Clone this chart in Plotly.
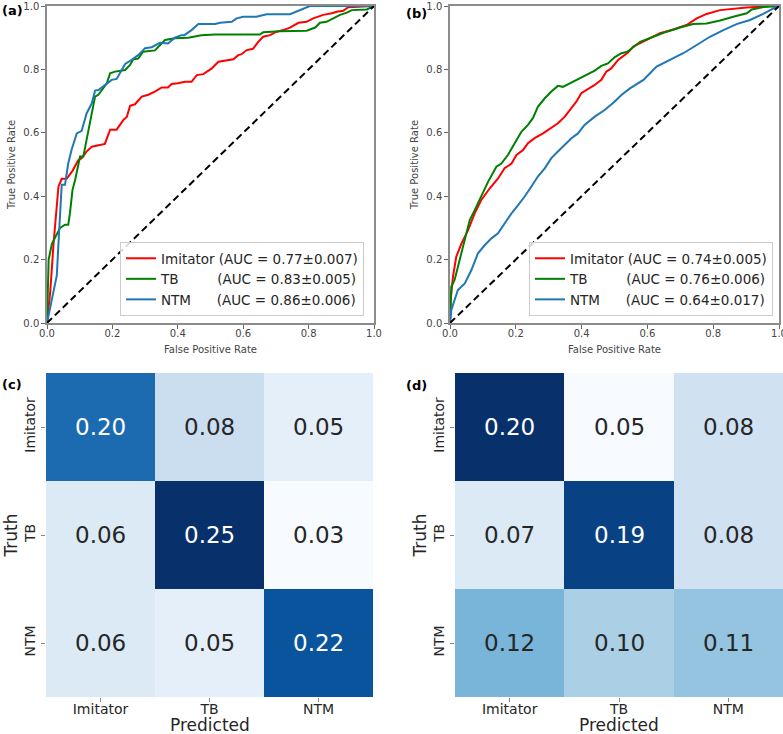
import plotly.graph_objects as go

# ---- ROC data, panel (a) ----
fpr_a_imitator = [0, 0.01, 0.02, 0.03, 0.035, 0.045, 0.06, 0.078, 0.096, 0.106, 0.12, 0.137, 0.157, 0.177,
                  0.193, 0.213, 0.233, 0.244, 0.254, 0.269, 0.29, 0.31, 0.33, 0.351, 0.37, 0.381, 0.40, 0.422,
                  0.442, 0.458, 0.478, 0.504, 0.524, 0.548, 0.57, 0.585, 0.595, 0.611, 0.63, 0.646, 0.661,
                  0.682, 0.702, 0.723, 0.743, 0.769, 0.794, 0.814, 0.845, 0.871, 0.886, 0.906, 0.921, 1.0]
tpr_a_imitator = [0, 0.10, 0.25, 0.37, 0.43, 0.455, 0.455, 0.48, 0.514, 0.52, 0.54, 0.556, 0.56, 0.565,
                  0.61, 0.61, 0.64, 0.65, 0.685, 0.69, 0.714, 0.72, 0.73, 0.743, 0.743, 0.754, 0.756, 0.761,
                  0.761, 0.782, 0.785, 0.803, 0.824, 0.828, 0.832, 0.845, 0.848, 0.861, 0.865, 0.887, 0.903,
                  0.908, 0.919, 0.924, 0.932, 0.947, 0.95, 0.961, 0.972, 0.977, 0.982, 0.985, 0.996, 1.0]

fpr_a_tb = [0, 0.003, 0.005, 0.015, 0.03, 0.04, 0.055, 0.065, 0.07, 0.078, 0.086, 0.101, 0.111, 0.121, 0.137,
            0.147, 0.157, 0.167, 0.183, 0.193, 0.208, 0.239, 0.254, 0.264, 0.279, 0.294, 0.33, 0.346, 0.361,
            0.391, 0.432, 0.472, 0.514, 0.651, 0.661, 0.712, 0.794, 0.82, 0.835, 0.855, 0.876, 0.896, 0.917,
            0.932, 0.978, 0.993, 1.0]
tpr_a_tb = [0, 0.12, 0.20, 0.25, 0.28, 0.30, 0.31, 0.31, 0.345, 0.42, 0.451, 0.525, 0.525, 0.577, 0.661,
            0.714, 0.72, 0.735, 0.756, 0.788, 0.793, 0.798, 0.814, 0.832, 0.834, 0.856, 0.86, 0.877, 0.893,
            0.898, 0.90, 0.908, 0.91, 0.91, 0.917, 0.92, 0.922, 0.932, 0.947, 0.95, 0.961, 0.972, 0.979,
            0.987, 0.989, 0.997, 1.0]

fpr_a_ntm = [0, 0.01, 0.02, 0.03, 0.035, 0.04, 0.045, 0.055, 0.065, 0.075, 0.091, 0.106, 0.121, 0.137, 0.147,
             0.157, 0.177, 0.198, 0.213, 0.239, 0.259, 0.279, 0.30, 0.32, 0.346, 0.37, 0.391, 0.411, 0.42,
             0.442, 0.463, 0.514, 0.529, 0.565, 0.58, 0.60, 0.64, 0.672, 0.743, 0.763, 0.794, 0.804, 1.0]
tpr_a_ntm = [0, 0.05, 0.10, 0.15, 0.25, 0.35, 0.436, 0.436, 0.504, 0.546, 0.598, 0.606, 0.661, 0.693, 0.733,
             0.735, 0.751, 0.767, 0.77, 0.817, 0.83, 0.845, 0.867, 0.87, 0.884, 0.882, 0.90, 0.908, 0.908,
             0.924, 0.943, 0.943, 0.947, 0.95, 0.961, 0.966, 0.966, 0.974, 0.974, 0.982, 0.996, 1.0, 1.0]

# ---- ROC data, panel (b) ----
fpr_b_imitator = [0, 0.002, 0.009, 0.019, 0.035, 0.055, 0.075, 0.095, 0.121, 0.146, 0.166, 0.187, 0.202,
                  0.222, 0.237, 0.257, 0.283, 0.303, 0.328, 0.349, 0.369, 0.384, 0.399, 0.419, 0.44, 0.46,
                  0.475, 0.49, 0.511, 0.541, 0.557, 0.598, 0.638, 0.679, 0.719, 0.75, 0.78, 0.821, 0.862,
                  0.902, 0.963, 1.0]
tpr_b_imitator = [0, 0.072, 0.146, 0.209, 0.251, 0.293, 0.346, 0.388, 0.425, 0.456, 0.488, 0.503, 0.53,
                  0.546, 0.567, 0.583, 0.598, 0.611, 0.63, 0.651, 0.677, 0.698, 0.725, 0.737, 0.751, 0.767,
                  0.793, 0.803, 0.83, 0.853, 0.872, 0.893, 0.914, 0.926, 0.94, 0.961, 0.975, 0.987, 0.992,
                  0.995, 0.999, 1.0]

fpr_b_tb = [0, 0.004, 0.014, 0.035, 0.06, 0.075, 0.095, 0.116, 0.141, 0.156, 0.176, 0.197, 0.217, 0.237,
            0.252, 0.267, 0.288, 0.308, 0.328, 0.343, 0.358, 0.389, 0.414, 0.44, 0.46, 0.48, 0.50, 0.521,
            0.54, 0.578, 0.618, 0.659, 0.699, 0.739, 0.78, 0.821, 0.861, 0.902, 0.917, 0.953, 1.0]
tpr_b_tb = [0, 0.115, 0.136, 0.22, 0.325, 0.356, 0.398, 0.446, 0.493, 0.503, 0.53, 0.567, 0.603, 0.625,
            0.646, 0.682, 0.709, 0.73, 0.748, 0.745, 0.753, 0.769, 0.782, 0.796, 0.811, 0.819, 0.838, 0.851,
            0.856, 0.887, 0.903, 0.919, 0.932, 0.943, 0.945, 0.954, 0.966, 0.977, 0.989, 0.997, 1.0]

fpr_b_ntm = [0, 0.004, 0.024, 0.045, 0.065, 0.085, 0.106, 0.126, 0.146, 0.166, 0.187, 0.207, 0.227, 0.247,
             0.267, 0.288, 0.308, 0.328, 0.349, 0.369, 0.389, 0.409, 0.44, 0.47, 0.50, 0.521, 0.547, 0.588,
             0.628, 0.669, 0.709, 0.75, 0.79, 0.831, 0.871, 0.912, 0.952, 0.993, 1.0]
tpr_b_ntm = [0, 0.041, 0.104, 0.125, 0.167, 0.22, 0.246, 0.267, 0.283, 0.314, 0.346, 0.372, 0.399, 0.43,
             0.462, 0.488, 0.52, 0.541, 0.562, 0.583, 0.598, 0.625, 0.651, 0.672, 0.698, 0.719, 0.74, 0.767,
             0.809, 0.83, 0.851, 0.877, 0.903, 0.924, 0.943, 0.956, 0.975, 0.998, 1.0]

classes = ["Imitator", "TB", "NTM"]
auc_a = ["0.77±0.007", "0.83±0.005", "0.86±0.006"]
auc_b = ["0.74±0.005", "0.76±0.006", "0.64±0.017"]

# ---- confusion matrices (rows = truth, cols = predicted) ----
cm_c = [[0.20, 0.08, 0.05],
        [0.06, 0.25, 0.03],
        [0.06, 0.05, 0.22]]
cm_d = [[0.20, 0.05, 0.08],
        [0.07, 0.19, 0.08],
        [0.12, 0.10, 0.11]]

# matplotlib "Blues"
blues = [[0.0, "#f7fbff"], [0.125, "#deebf7"], [0.25, "#c6dbef"], [0.375, "#9ecae1"],
         [0.5, "#6baed6"], [0.625, "#4292c6"], [0.75, "#2171b5"], [0.875, "#08519c"], [1.0, "#08306b"]]

colors = ["red", "green", "#1f77b4"]
W, H = 783, 734
FONT = "DejaVu Sans"

# pad names so that "(AUC" lines up like in the original legend
pad = {"Imitator": " ", "TB": "\u00a0" * 8 + " ", "NTM": "\u00a0" * 5 + " "}

fig = go.Figure()

roc_sets = [
    ("x", "y", "legend", auc_a, [(fpr_a_imitator, tpr_a_imitator), (fpr_a_tb, tpr_a_tb), (fpr_a_ntm, tpr_a_ntm)]),
    ("x2", "y2", "legend2", auc_b, [(fpr_b_imitator, tpr_b_imitator), (fpr_b_tb, tpr_b_tb), (fpr_b_ntm, tpr_b_ntm)]),
]
for xa, ya, lg, aucs, curves in roc_sets:
    for i, (fx, ty) in enumerate(curves):
        fig.add_trace(go.Scatter(x=fx, y=ty, mode="lines", xaxis=xa, yaxis=ya, legend=lg,
                                 line=dict(color=colors[i], width=2),
                                 name=f"{classes[i]}{pad[classes[i]]}(AUC = {aucs[i]})"))
    fig.add_trace(go.Scatter(x=[0, 1], y=[0, 1], mode="lines", xaxis=xa, yaxis=ya, showlegend=False,
                             line=dict(color="black", width=2, dash="7px,4px")))


def cell_annotations(cm, xa, ya):
    flat = [v for row in cm for v in row]
    lo, hi = min(flat), max(flat)
    out = []
    for r, row in enumerate(cm):
        for c, v in enumerate(row):
            dark = (v - lo) / (hi - lo) > 0.6
            out.append(dict(x=classes[c], y=classes[r], xref=xa, yref=ya, text=f"{v:.2f}", showarrow=False,
                            font=dict(family=FONT, size=23, color="white" if dark else "#262626")))
    return out


annotations = []
for cm, xa, ya in [(cm_c, "x3", "y3"), (cm_d, "x4", "y4")]:
    fig.add_trace(go.Heatmap(z=cm, x=classes, y=classes, xaxis=xa, yaxis=ya, colorscale=blues,
                             showscale=False, hoverinfo="z"))
    annotations += cell_annotations(cm, xa, ya)
    # "Predicted" x label, placed by hand because a zero bottom margin clamps axis titles
    annotations.append(dict(text="Predicted", x=0.5, y=0, xref=f"{xa} domain", yref="paper",
                            xanchor="center", yanchor="bottom", yshift=-2, borderpad=0, showarrow=False,
                            font=dict(family=FONT, size=17, color="#262626")))

for label, x, y in [("(a)", 0, 734 - 1), ("(b)", 404, 734 - 4), ("(c)", 0, 734 - 375), ("(d)", 404, 734 - 376)]:
    annotations.append(dict(text=f"<b>{label}</b>", x=x / W, y=y / H, xref="paper", yref="paper",
                            xanchor="left", yanchor="top", showarrow=False,
                            font=dict(family=FONT, size=13, color="black")))

roc_x = dict(range=[0, 1], tickvals=[0, 0.2, 0.4, 0.6, 0.8, 1.0], tickformat=".1f", showgrid=False,
             zeroline=False, showline=True, mirror=True, linecolor="#8c8c8c", linewidth=1.5,
             ticks="outside", ticklen=4, tickcolor="#666", automargin=False, ticklabelstandoff=-4,
             ticklabeloverflow="allow", tickfont=dict(family=FONT, size=10, color="#444"),
             title=dict(text="False Positive Rate", font=dict(family=FONT, size=10, color="#444"), standoff=8))
roc_y = dict(roc_x, ticklabelstandoff=0,
             title=dict(text="True Positive Rate", font=dict(family=FONT, size=10, color="#444"), standoff=6))

hm_x = dict(showgrid=False, zeroline=False, showline=False, ticks="outside", ticklen=4, tickcolor="#888",
            automargin=False, ticklabelstandoff=-5, tickfont=dict(family=FONT, size=14, color="#262626"))
hm_y = dict(showgrid=False, zeroline=False, showline=False, ticks="outside", ticklen=4, tickcolor="#888",
            automargin=False, tickangle=-90, autorange="reversed",
            tickfont=dict(family=FONT, size=14, color="#262626"),
            title=dict(text="Truth", font=dict(family=FONT, size=17, color="#262626"), standoff=0))

leg = dict(xanchor="right", yanchor="bottom", bgcolor="rgba(255,255,255,0.85)", bordercolor="#cccccc",
           borderwidth=1, font=dict(family=FONT, size=13.5, color="#262626"), tracegroupgap=0,
           itemwidth=30)

fig.update_layout(
    width=W, height=H, margin=dict(l=0, r=0, t=0, b=0, autoexpand=False),
    paper_bgcolor="white", plot_bgcolor="white", font=dict(family=FONT),
    xaxis=dict(roc_x, domain=[47 / W, 374 / W], anchor="y"),
    yaxis=dict(roc_y, domain=[1 - 323 / H, 1 - 6 / H], anchor="x"),
    xaxis2=dict(roc_x, domain=[450 / W, 779 / W], anchor="y2"),
    yaxis2=dict(roc_y, domain=[1 - 323 / H, 1 - 6 / H], anchor="x2"),
    xaxis3=dict(hm_x, domain=[46 / W, 373 / W], anchor="y3"),
    yaxis3=dict(hm_y, domain=[1 - 697 / H, 1 - 373 / H], anchor="x3"),
    xaxis4=dict(hm_x, domain=[455 / W, 1.0], anchor="y4"),
    yaxis4=dict(hm_y, domain=[1 - 697 / H, 1 - 373 / H], anchor="x4"),
    legend=dict(leg, x=364 / W, y=1 - 316 / H),
    legend2=dict(leg, x=773 / W, y=1 - 316 / H),
    annotations=annotations,
)

# the page's default body margin would push the figure 8px off the window
fig.write_html("out.html", config={"displayModeBar": False},
               post_script="document.body.style.margin='0px';")
